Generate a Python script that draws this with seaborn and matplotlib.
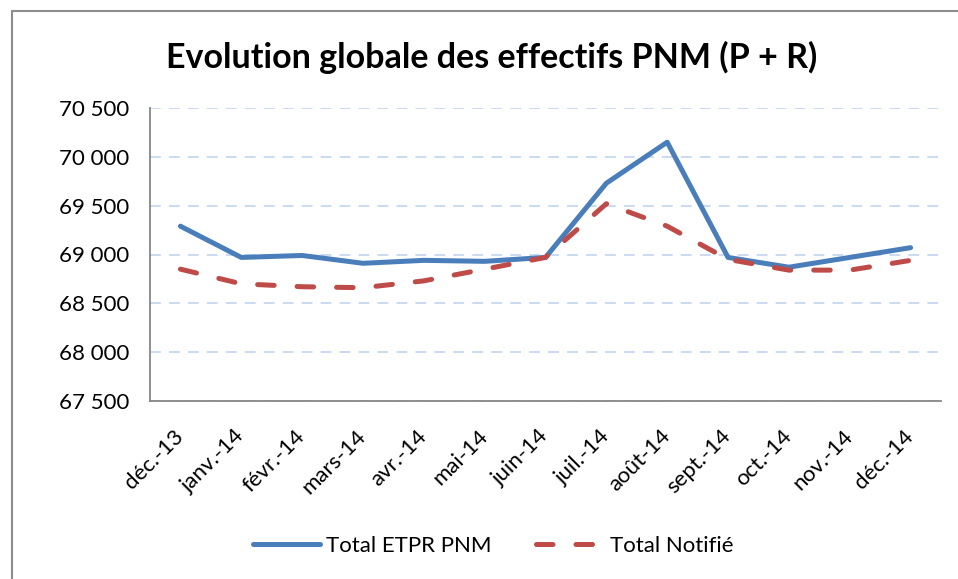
import numpy as np
import pandas as pd
import matplotlib
matplotlib.use("Agg")
import matplotlib.pyplot as plt
from matplotlib.patches import Rectangle
from matplotlib.ticker import FuncFormatter
from matplotlib.transforms import ScaledTranslation
import seaborn as sns

# données
mois = ['déc.-13', 'janv.-14', 'févr.-14', 'mars-14', 'avr.-14', 'mai-14', 'juin-14',
        'juil.-14', 'août-14', 'sept.-14', 'oct.-14', 'nov.-14', 'déc.-14']
total_etpr = [69290, 68970, 68990, 68910, 68940, 68930, 68970,
              69730, 70150, 68970, 68870, 68970, 69070]
total_notifie = [68850, 68700, 68670, 68660, 68730, 68850, 68970,
                 69520, 69290, 68950, 68840, 68840, 68940]
y_ticks = [67500, 68000, 68500, 69000, 69500, 70000, 70500]

sns.set_style("white")
plt.rcParams['font.family'] = ['Lato', 'DejaVu Sans']
plt.rcParams['text.color'] = 'black'
plt.rcParams['xtick.color'] = 'black'
plt.rcParams['ytick.color'] = 'black'

W, H = 958, 579
fig = plt.figure(figsize=(W / 100, H / 100), dpi=100)
ax = fig.add_axes([150 / W, 1 - 401 / H, (941 - 150) / W, (401 - 108) / H])

df = pd.DataFrame({'x': np.arange(len(mois)), 'etpr': total_etpr, 'notif': total_notifie})

sns.lineplot(data=df, x='x', y='etpr', ax=ax, color='#4A7EBB', linewidth=3.6,
             solid_capstyle='round', solid_joinstyle='round', label='Total ETPR PNM', zorder=3)
sns.lineplot(data=df, x='x', y='notif', ax=ax, color='#BE4B48', linewidth=3.6,
             dashes=False, label='Total Notifié', zorder=4)
ax.lines[1].set_dashes([3.3, 4.6])
ax.lines[1].set_dash_capstyle('round')

ax.set_xlim(-0.5, len(mois) - 0.5)
ax.set_ylim(y_ticks[0], y_ticks[-1])
ax.set_yticks(y_ticks)
ax.yaxis.set_major_formatter(FuncFormatter(lambda v, p: f"{int(v):,}".replace(",", " ")))
ax.set_xticks(np.arange(len(mois)))
ax.set_xticklabels(mois, rotation=45, ha='right', va='center', rotation_mode='anchor')
shift = ScaledTranslation(5 / 100, 0, fig.dpi_scale_trans)
for lab in ax.get_xticklabels():
    lab.set_transform(lab.get_transform() + shift)
ax.set_xticks(np.arange(-0.5, len(mois)), minor=True)
ax.tick_params(axis='x', which='major', length=0, pad=23, labelsize=16)
ax.tick_params(axis='x', which='minor', length=7, width=1.3, color='#868686', direction='out')
ax.tick_params(axis='y', length=7, width=1.3, color='#868686', labelcolor='black',
               direction='out', pad=8, labelsize=16)
ax.set_xlabel('')
ax.set_ylabel('')

ax.yaxis.grid(True, color='#C6D9F1', linestyle=(0, (6, 4.5)), linewidth=1.3)
ax.set_axisbelow(True)
for s in ['top', 'right']:
    ax.spines[s].set_visible(False)
for s in ['left', 'bottom']:
    ax.spines[s].set_color('#868686')
    ax.spines[s].set_linewidth(1.3)

ax.legend_.remove()
handles, labels = ax.get_legend_handles_labels()
fig.legend(handles, labels, loc='center', bbox_to_anchor=(493 / W, 1 - 546 / H), ncol=2,
           frameon=False, fontsize=16, handlelength=3.0, columnspacing=2.0, handletextpad=0.3)

fig.text(492 / W, 1 - 57 / H, 'Evolution globale des effectifs PNM (P + R)',
         ha='center', va='center', fontsize=24.5, fontweight='bold')

fig.patches.append(Rectangle((12 / W, -0.1), 1.2, 1 - 11 / H + 0.1, transform=fig.transFigure,
                             fill=False, edgecolor='#8C8C8C', linewidth=1.5))

fig.savefig('out.png', dpi=100)
